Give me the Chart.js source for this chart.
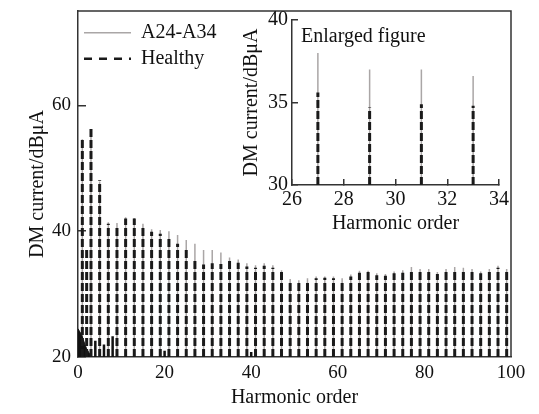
<!DOCTYPE html>
<html>
<head>
<meta charset="utf-8">
<script src="https://cdn.jsdelivr.net/npm/chart.js@4.4.0/dist/chart.umd.min.js"></script>
<style>
  html, body { margin: 0; padding: 0; background: #fff; }
  #wrap { position: relative; width: 539px; height: 414px; }
  #main { position: absolute; left: 0; top: 0; }
  #inset { position: absolute; left: 232px; top: 0; }
</style>
</head>
<body>
<div id="wrap">
  <canvas id="main" width="539" height="414"></canvas>
  <canvas id="inset" width="307" height="240"></canvas>
</div>
<script>
// odd harmonic orders and the two measured spectra (dBuA)
const orders = [1, 3, 5, 7, 9, 11, 13, 15, 17, 19, 21, 23, 25, 27, 29, 31, 33, 35, 37, 39,
  41, 43, 45, 47, 49, 51, 53, 55, 57, 59, 61, 63, 65, 67, 69, 71, 73, 75, 77, 79,
  81, 83, 85, 87, 89, 91, 93, 95, 97, 99];
const a24 = [54.6, 56.0, 47.9, 41.4, 41.3, 42.2, 42.1, 41.2, 40.3, 40.2, 40.0, 39.4, 38.6, 38.0, 37.0, 37.0, 36.6, 35.8, 35.5, 34.9,
  34.6, 34.9, 34.6, 33.8, 32.4, 32.2, 32.5, 32.8, 32.8, 32.8, 32.5, 33.1, 33.7, 33.7, 33.3, 33.2, 33.6, 33.8, 34.3, 34.0,
  34.0, 33.5, 34.0, 34.3, 34.2, 34.0, 33.6, 34.0, 34.5, 34.0];
const healthy = [54.9, 56.3, 48.1, 41.2, 41.0, 42.0, 42.0, 40.9, 39.9, 39.6, 39.2, 38.0, 37.0, 35.6, 34.7, 34.9, 34.8, 35.3, 35.0, 34.4,
  34.2, 34.5, 34.2, 33.5, 32.1, 31.9, 32.2, 32.5, 32.6, 32.5, 32.2, 32.8, 33.4, 33.5, 33.0, 32.9, 33.3, 33.4, 34.0, 33.7,
  33.7, 33.2, 33.7, 34.0, 33.9, 33.7, 33.3, 33.7, 34.2, 33.7];
// even order component and low level noise near the bottom
const evenOrders = [2];
const evenLevels = [37.5];
const noiseOrders = [4, 6, 8, 20, 40];
const noiseLevels = [22.6, 22.0, 23.3, 21.0, 20.8];
const lowOrders = [0, 0.4, 0.8, 1.2, 1.6, 2.0, 2.6, 3.2];
const lowLevels = [24.5, 24.0, 23.6, 22.8, 22.0, 21.3, 20.6, 20.0];

const xTicks = [0, 20, 40, 60, 80, 100];
const yTicks = [20, 40, 60];
const insetXTicks = [26, 28, 30, 32, 34];
const insetYTicks = [30, 35, 40];

const yBase = 20;
const font = "'Liberation Serif', 'DejaVu Serif', serif";
Chart.defaults.font.family = font;
Chart.defaults.color = '#111';

function stems(xs, ys) {
  const pts = [];
  xs.forEach((x, i) => {
    pts.push({x: x, y: yBase}, {x: x, y: ys[i]}, {x: x, y: null});
  });
  return pts;
}

function seriesSets(withExtras) {
  const sets = [
    {label: 'A24-A34', data: stems(orders, a24), borderColor: '#aaa6a6', borderWidth: 1.5, order: 2},
    {label: 'Healthy', data: stems(orders, healthy), borderColor: '#1a1a1a', borderWidth: 3, borderDash: [8, 3], order: 1}
  ];
  if (withExtras) {
    sets.push({label: 'even', data: stems(evenOrders, evenLevels), borderColor: '#1a1a1a', borderWidth: 3, borderDash: [8, 3], order: 1});
    sets.push({label: 'noise', data: stems(noiseOrders, noiseLevels), borderColor: '#111', borderWidth: 2.5, order: 1});
    sets.push({label: 'low', data: lowOrders.map((x, i) => ({x: x, y: lowLevels[i]})),
      borderColor: '#111', borderWidth: 1, backgroundColor: '#111', fill: 'start', order: 1});
  }
  sets.forEach(s => { s.pointRadius = 0; s.spanGaps = false; s.tension = 0; });
  return sets;
}

function pickTicks(list) {
  return scale => { scale.ticks = list.map(v => ({value: v})); };
}

function fixSize(prop, size) {
  return s => {
    s[prop] = size;
    s.paddingTop = 0; s.paddingBottom = 0; s.paddingLeft = 0; s.paddingRight = 0;
  };
}

// box around the main plot (top and right sides)
const frame = {
  id: 'frame',
  afterDraw(chart) {
    const {ctx, chartArea: a} = chart;
    ctx.save();
    ctx.strokeStyle = '#333';
    ctx.lineWidth = 1.5;
    ctx.beginPath();
    ctx.moveTo(a.left, a.top);
    ctx.lineTo(a.right, a.top);
    ctx.lineTo(a.right, a.bottom);
    ctx.stroke();
    ctx.restore();
  }
};

const note = {
  id: 'note',
  afterDraw(chart) {
    const {ctx, chartArea: a} = chart;
    ctx.save();
    ctx.font = '20px ' + font;
    ctx.fillStyle = '#111';
    ctx.textBaseline = 'middle';
    ctx.fillText('Enlarged figure', a.left + 9, a.top + 17);
    ctx.restore();
  }
};

new Chart(document.getElementById('main'), {
  type: 'line',
  data: {datasets: seriesSets(true)},
  options: {
    responsive: false,
    animation: false,
    events: [],
    layout: {padding: {top: 11, right: 28, left: 0, bottom: 0}},
    scales: {
      x: {
        type: 'linear', min: 0, max: 100,
        afterBuildTicks: pickTicks(xTicks),
        afterFit: fixSize('height', 57),
        grid: {drawOnChartArea: false, drawTicks: false},
        border: {color: '#333', width: 1.5},
        ticks: {font: {size: 19}, padding: 5, maxRotation: 0},
        title: {display: true, text: 'Harmonic order', font: {size: 20}, padding: {top: 0, bottom: 4}}
      },
      y: {
        min: 20, max: 75,
        afterBuildTicks: pickTicks(yTicks),
        afterFit: fixSize('width', 78),
        grid: {drawOnChartArea: false, drawTicks: true, tickLength: -8, color: '#333', lineWidth: 1.5},
        border: {color: '#333', width: 1.5},
        ticks: {font: {size: 19}, padding: 15},
        title: {display: true, text: 'DM current/dBμA', font: {size: 20}, padding: {top: 26, bottom: 0}}
      }
    },
    plugins: {
      tooltip: {enabled: false},
      legend: {
        position: 'chartArea',
        align: 'start',
        title: {display: true, text: ' ', padding: 0, font: {size: 14}},
        labels: {
          usePointStyle: true,
          pointStyle: 'line',
          pointStyleWidth: 47,
          padding: 6,
          font: {size: 20},
          color: '#111',
          filter: item => item.datasetIndex < 2,
          sort: (a, b) => a.datasetIndex - b.datasetIndex,
          generateLabels: chart => {
            const items = Chart.defaults.plugins.legend.labels.generateLabels(chart);
            items.forEach(it => { if (it.datasetIndex === 1) { it.lineDash = [8, 7]; it.lineWidth = 2.5; } });
            return items;
          }
        }
      }
    }
  },
  plugins: [frame]
});

new Chart(document.getElementById('inset'), {
  type: 'line',
  data: {datasets: seriesSets(false)},
  options: {
    responsive: false,
    animation: false,
    events: [],
    layout: {padding: {top: 20, right: 40, left: 0, bottom: 0}},
    scales: {
      x: {
        type: 'linear', min: 26, max: 34,
        afterBuildTicks: pickTicks(insetXTicks),
        afterFit: fixSize('height', 55),
        grid: {drawOnChartArea: false, drawTicks: true, tickLength: -6, color: '#333', lineWidth: 1.5},
        border: {color: '#333', width: 1.5},
        ticks: {font: {size: 20}, padding: 9, maxRotation: 0},
        title: {display: true, text: 'Harmonic order', font: {size: 20}, padding: {top: 0, bottom: 4}}
      },
      y: {
        min: 30, max: 40,
        afterBuildTicks: pickTicks(insetYTicks),
        afterFit: fixSize('width', 60),
        grid: {drawOnChartArea: false, drawTicks: true, tickLength: -6, color: '#333', lineWidth: 1.5},
        border: {color: '#333', width: 1.5},
        ticks: {font: {size: 20}, padding: 10},
        title: {display: true, text: 'DM current/dBμA', font: {size: 20}, padding: {top: 8, bottom: 0}}
      }
    },
    plugins: {
      tooltip: {enabled: false},
      legend: {display: false}
    }
  },
  plugins: [note]
});
</script>
</body>
</html>
